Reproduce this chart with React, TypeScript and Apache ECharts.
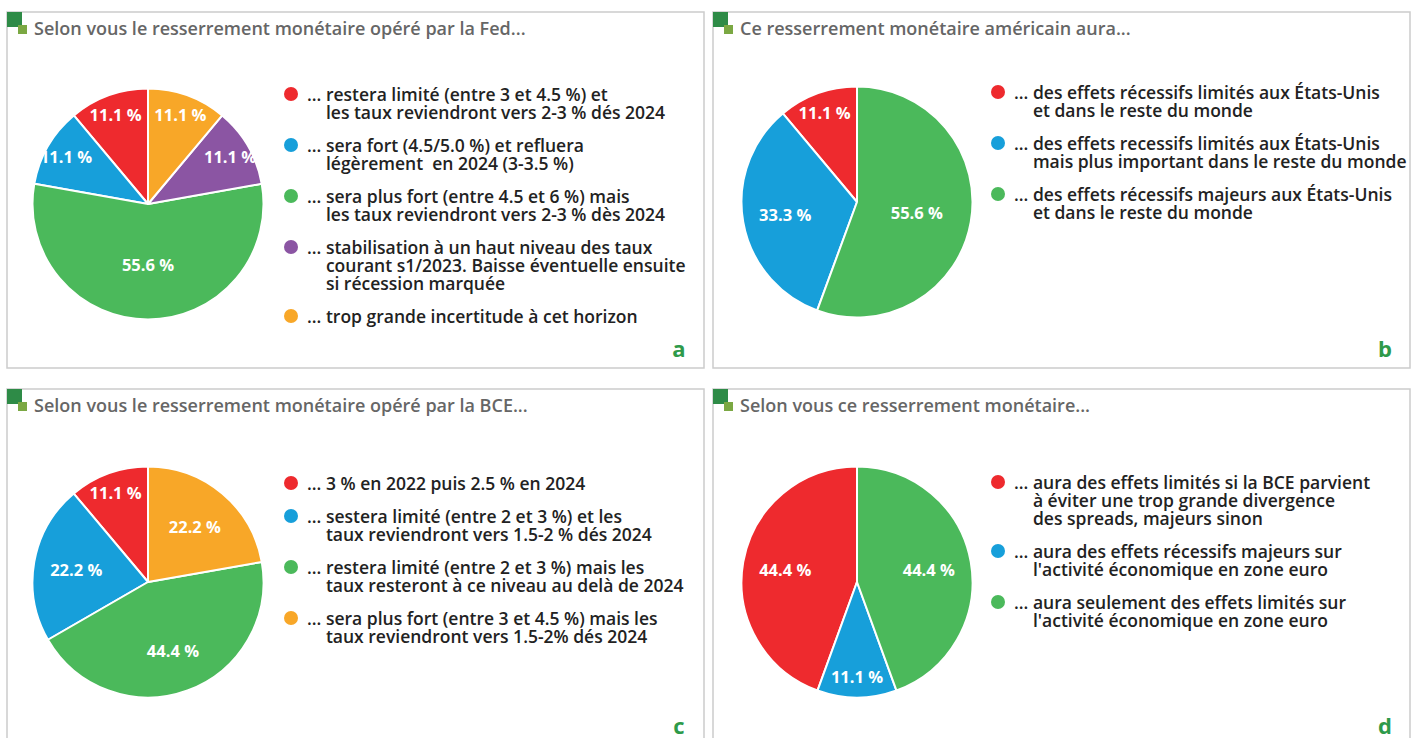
import React, { useEffect, useRef } from 'react';
import * as echarts from 'echarts';

// ---------- DATA ----------
const RED = '#ee2a2e';
const BLUE = '#179fda';
const GREEN = '#4bb95b';
const PURPLE = '#8b55a3';
const ORANGE = '#f8a728';

const titleA = 'Selon vous le resserrement monétaire opéré par la Fed...';
const categoriesA = [
  '... restera limité (entre 3 et 4.5 %) et\nles taux reviendront vers 2-3 % dés 2024',
  '... sera fort (4.5/5.0 %) et refluera\nlégèrement  en 2024 (3-3.5 %)',
  '... sera plus fort (entre 4.5 et 6 %) mais\nles taux reviendront vers 2-3 % dès 2024',
  '... stabilisation à un haut niveau des taux\ncourant s1/2023. Baisse éventuelle ensuite\nsi récession marquée',
  '... trop grande incertitude à cet horizon',
];
const valuesA = [11.1, 11.1, 55.6, 11.1, 11.1];
const colorsA = [RED, BLUE, GREEN, PURPLE, ORANGE];

const titleB = 'Ce resserrement monétaire américain aura...';
const categoriesB = [
  '... des effets récessifs limités aux États-Unis\net dans le reste du monde',
  '... des effets recessifs limités aux États-Unis\nmais plus important dans le reste du monde',
  '... des effets récessifs majeurs aux États-Unis\net dans le reste du monde',
];
const valuesB = [11.1, 33.3, 55.6];
const colorsB = [RED, BLUE, GREEN];

const titleC = 'Selon vous le resserrement monétaire opéré par la BCE...';
const categoriesC = [
  '... 3 % en 2022 puis 2.5 % en 2024',
  '... sestera limité (entre 2 et 3 %) et les\ntaux reviendront vers 1.5-2 % dés 2024',
  '... restera limité (entre 2 et 3 %) mais les\ntaux resteront à ce niveau au delà de 2024',
  '... sera plus fort (entre 3 et 4.5 %) mais les\ntaux reviendront vers 1.5-2% dés 2024',
];
const valuesC = [11.1, 22.2, 44.4, 22.2];
const colorsC = [RED, BLUE, GREEN, ORANGE];

const titleD = 'Selon vous ce resserrement monétaire...';
const categoriesD = [
  '... aura des effets limités si la BCE parvient\nà éviter une trop grande divergence\ndes spreads, majeurs sinon',
  "... aura des effets récessifs majeurs sur\nl'activité économique en zone euro",
  "... aura seulement des effets limités sur\nl'activité économique en zone euro",
];
const valuesD = [44.4, 11.1, 44.4];
const colorsD = [RED, BLUE, GREEN];

const panelLetters = ['a', 'b', 'c', 'd'];

// ---------- LAYOUT ----------
const FONT = '"Open Sans", "DejaVu Sans", sans-serif';
const R = 115.5;
const LEG_SIZE = 17.5;
const LEG_WEIGHT = 600;

const panels = [
  { title: titleA, names: categoriesA, values: valuesA, colors: colorsA,
    box: { x: 7, y: 12, w: 697, h: 356 }, center: [148, 204], legend: { left: 279, top: 85 } },
  { title: titleB, names: categoriesB, values: valuesB, colors: colorsB,
    box: { x: 713, y: 12, w: 697, h: 356 }, center: [857, 202], legend: { left: 986, top: 83 } },
  { title: titleC, names: categoriesC, values: valuesC, colors: colorsC,
    box: { x: 7, y: 389, w: 697, h: 400 }, center: [148, 582], legend: { left: 279, top: 474 } },
  { title: titleD, names: categoriesD, values: valuesD, colors: colorsD,
    box: { x: 713, y: 389, w: 697, h: 400 }, center: [857, 582], legend: { left: 986, top: 473 } },
];

export default function App() {
  const ref = useRef<HTMLDivElement>(null);

  useEffect(() => {
    const el = ref.current!;
    const chart = echarts.init(el, null, { renderer: 'svg' });

    const ctx = document.createElement('canvas').getContext('2d')!;
    ctx.font = `${LEG_WEIGHT} ${LEG_SIZE}px "Open Sans"`;
    const prefixW = ctx.measureText('... ').width;
    const DOT = 14;
    const GAP = 9;

    const graphics: any[] = [];
    panels.forEach((p, pi) => {
      const b = p.box;
      graphics.push({
        type: 'rect', z: 1,
        shape: { x: b.x, y: b.y, width: b.w, height: b.h },
        style: { fill: 'none', stroke: '#cccccc', lineWidth: 1.5 },
      });
      graphics.push({
        type: 'rect', z: 2,
        shape: { x: b.x, y: b.y, width: 15, height: 15 },
        style: { fill: '#2e8b47' },
      });
      graphics.push({
        type: 'rect', z: 2,
        shape: { x: b.x + 11, y: b.y + 13, width: 9, height: 9 },
        style: { fill: '#7ba843' },
      });
      graphics.push({
        type: 'text', z: 2, x: b.x + 27, y: b.y + 16,
        style: { text: p.title, fill: '#666666', font: `600 18px ${FONT}`, verticalAlign: 'middle', align: 'left' },
      });
      graphics.push({
        type: 'text', z: 2, x: b.x + 672, y: b.y + 336,
        style: { text: panelLetters[pi], fill: '#2e9a4a', font: `bold 22px ${FONT}`, verticalAlign: 'middle', align: 'center' },
      });
    });

    const legends = panels.map((p) => {
      const rich: any = {
        gap: { width: GAP, height: 18, lineHeight: 18 },
        ind: { width: DOT + GAP + prefixW, height: 18, lineHeight: 18 },
        t: { fontFamily: FONT, fontSize: LEG_SIZE, fontWeight: LEG_WEIGHT, color: '#222222', lineHeight: 18 },
      };
      p.colors.forEach((c, i) => {
        rich['dot' + i] = { width: DOT, height: DOT, borderRadius: DOT / 2, backgroundColor: c, lineHeight: 18 };
      });
      return {
        orient: 'vertical',
        left: p.legend.left,
        top: p.legend.top,
        padding: 0,
        itemGap: 15,
        itemWidth: 0,
        itemHeight: 18,
        icon: 'rect',
        itemStyle: { opacity: 0, borderWidth: 0 },
        data: p.names,
        formatter: (name: string) => {
          const idx = p.names.indexOf(name);
          const lines = name.split('\n');
          return `{dot${idx}|}{gap|}{t|${lines[0]}}` + lines.slice(1).map((l) => `\n{ind|}{t|${l}}`).join('');
        },
        textStyle: { fontFamily: FONT, fontSize: LEG_SIZE, color: '#222222', lineHeight: 18, rich },
      };
    });

    const series = panels.map((p) => {
      const total = p.values.reduce((a, v) => a + v, 0);
      return {
        type: 'pie',
        center: p.center,
        radius: R,
        startAngle: 90,
        clockwise: false,
        data: p.names.map((n, i) => ({ name: n, value: p.values[i], itemStyle: { color: p.colors[i] } })),
        itemStyle: { borderColor: '#ffffff', borderWidth: 2 },
        label: {
          show: true,
          position: 'inner',
          formatter: (d: any) => `${Number(d.value).toFixed(1)} %`,
          color: '#ffffff',
          fontFamily: FONT,
          fontSize: 16.5,
          fontWeight: 700,
        },
        labelLine: { show: false },
        emphasis: { scale: false },
        labelLayout: (params: any) => {
          const frac = p.values[params.dataIndex] / total;
          const k = frac < 0.15 ? 0.78 : frac <= 0.5 ? 0.6 : 0.5;
          const r = params.labelRect;
          const lx = r.x + r.width / 2;
          const ly = r.y + r.height / 2;
          const s = k / 0.5;
          return {
            x: p.center[0] + (lx - p.center[0]) * s,
            y: p.center[1] + (ly - p.center[1]) * s,
            align: 'center',
            verticalAlign: 'middle',
          };
        },
      };
    });

    chart.setOption({
      animation: false,
      backgroundColor: '#ffffff',
      graphic: graphics,
      legend: legends,
      series,
    });

    return () => chart.dispose();
  }, []);

  return <div ref={ref} style={{ position: 'absolute', left: 0, top: 0, width: 1415, height: 738 }} />;
}
